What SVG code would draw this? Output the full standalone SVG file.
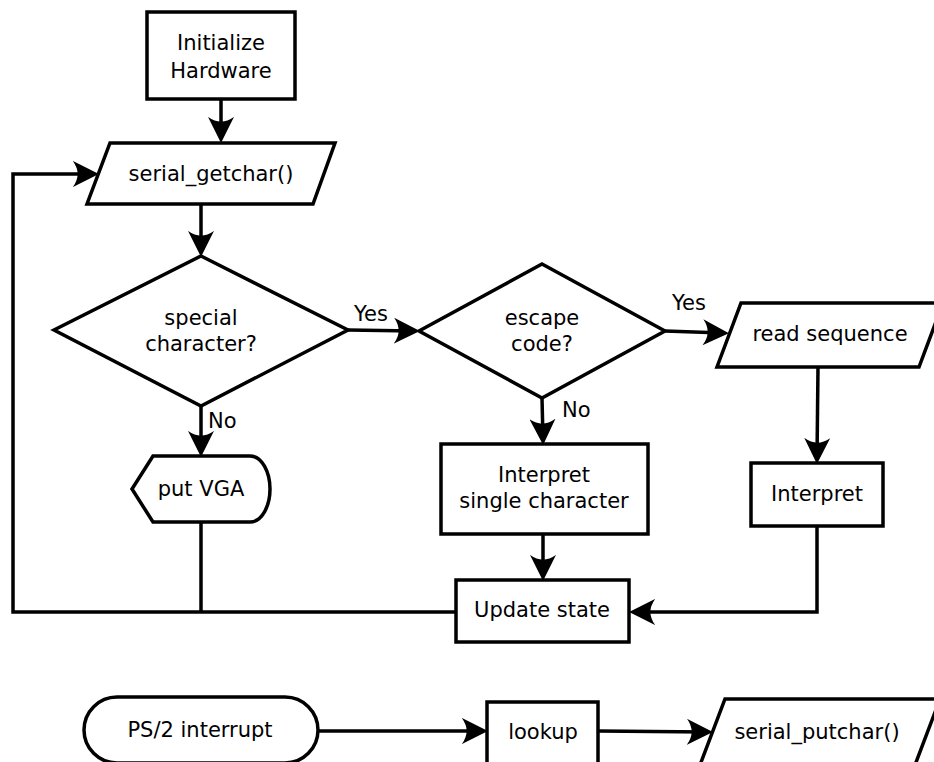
<svg xmlns="http://www.w3.org/2000/svg" width="934" height="762" viewBox="0 0 934 762">
<style>
.s{fill:#fff;stroke:#000;stroke-width:3.5}
.c{fill:none;stroke:#000;stroke-width:3.5}
.a{marker-end:url(#ah)}
text{font-family:"DejaVu Sans","Liberation Sans",sans-serif;font-size:21px;fill:#000}
.m{text-anchor:middle}
</style>
<defs>
<marker id="ah" markerUnits="userSpaceOnUse" markerWidth="26" markerHeight="26" viewBox="0 0 22 22" refX="17" refY="11" orient="auto">
<path d="M22,11 L0,0 Q8,11 0,22 Z" fill="#000"/>
</marker>
</defs>
<rect width="934" height="762" fill="#fff"/>
<g id="connectors">
<line class="c a" x1="221" y1="99" x2="221" y2="137"/>
<line class="c a" x1="201" y1="204" x2="201" y2="251"/>
<line class="c a" x1="348" y1="330" x2="414" y2="331"/>
<line class="c a" x1="665" y1="331" x2="723" y2="333"/>
<line class="c a" x1="201" y1="406" x2="201" y2="451"/>
<line class="c a" x1="542" y1="398" x2="543" y2="439"/>
<line class="c a" x1="818" y1="367" x2="817" y2="458"/>
<line class="c a" x1="543" y1="534" x2="543" y2="575"/>
<polyline class="c a" points="817,526 817,612 635,612"/>
<line class="c" x1="201" y1="522" x2="201" y2="612"/>
<polyline class="c a" points="456,612 13,612 13,174 93,174"/>
<line class="c a" x1="318" y1="731" x2="482" y2="731"/>
<line class="c a" x1="598" y1="731" x2="707" y2="732"/>
<text x="354" y="321">Yes</text>
<text x="672" y="310">Yes</text>
<text x="208" y="428">No</text>
<text x="562" y="417">No</text>
</g>
<g id="init">
<rect class="s" x="147" y="12" width="148" height="87"/>
<text class="m" x="221" y="50">Initialize</text>
<text class="m" x="221" y="78">Hardware</text>
</g>
<g id="getchar">
<polygon class="s" points="110,143 335,143 313,204 87,204"/>
<text class="m" x="211" y="181">serial_getchar()</text>
</g>
<g id="special">
<polygon class="s" points="201,256 348,330 201,406 54,330"/>
<text class="m" x="201" y="325">special</text>
<text class="m" x="201" y="351">character?</text>
</g>
<g id="escape">
<polygon class="s" points="542,264 665,331 542,398 419,331"/>
<text class="m" x="542" y="325">escape</text>
<text class="m" x="542" y="351">code?</text>
</g>
<g id="readseq">
<polygon class="s" points="741,303 943,303 919,367 717,367"/>
<text class="m" x="830" y="341">read sequence</text>
</g>
<g id="putvga">
<path class="s" d="M153,456 L250,456 C262,456 270,472 270,489 C270,506 262,522 250,522 L153,522 L132,489 Z"/>
<text class="m" x="201" y="496">put VGA</text>
</g>
<g id="interpsingle">
<rect class="s" x="441" y="444" width="207" height="90"/>
<text class="m" x="544" y="482">Interpret</text>
<text class="m" x="544" y="508">single character</text>
</g>
<g id="interpret">
<rect class="s" x="751" y="463" width="132" height="63"/>
<text class="m" x="817" y="501">Interpret</text>
</g>
<g id="update">
<rect class="s" x="456" y="580" width="173" height="62"/>
<text class="m" x="542" y="617">Update state</text>
</g>
<g id="ps2">
<rect class="s" x="84" y="697" width="234" height="66" rx="33" ry="33"/>
<text class="m" x="200" y="737">PS/2 interrupt</text>
</g>
<g id="lookup">
<rect class="s" x="487" y="702" width="111" height="70"/>
<text class="m" x="543" y="739">lookup</text>
</g>
<g id="putchar">
<polygon class="s" points="725,699 940,699 915,765 700,765"/>
<text class="m" x="817" y="739">serial_putchar()</text>
</g>
</svg>
